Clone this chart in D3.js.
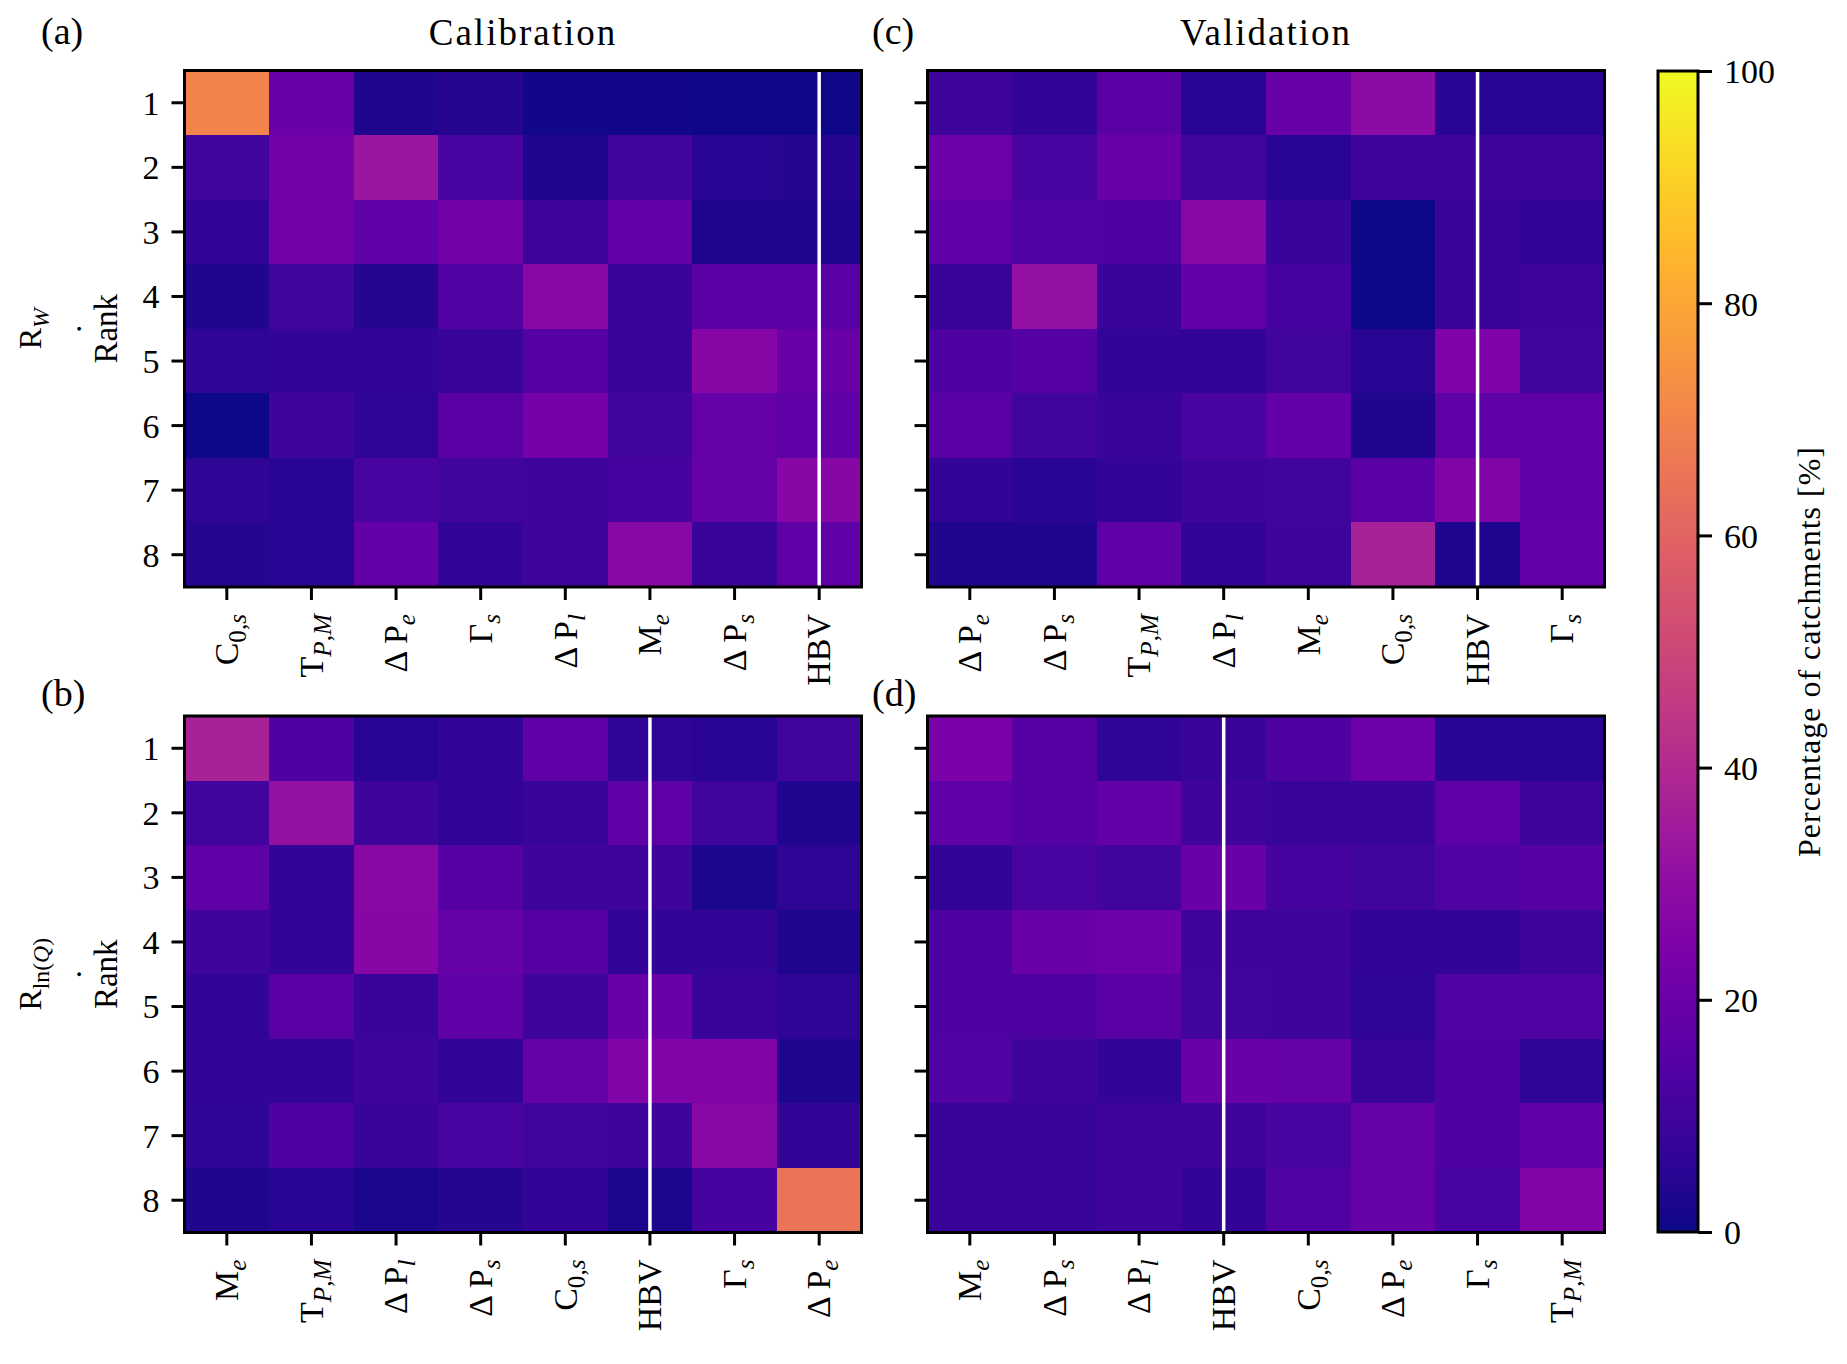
<!DOCTYPE html>
<html>
<head>
<meta charset="utf-8">
<script src="https://cdn.jsdelivr.net/npm/d3@7"></script>
<style>
  body { margin: 0; background: #fff; }
  svg text { font-family: "Liberation Serif", "DejaVu Serif", serif; fill: #000; }
</style>
</head>
<body>
<script>
// datos: filas = rango 1..8, columnas = métodos (en el orden de las etiquetas)
const ranks = [1, 2, 3, 4, 5, 6, 7, 8];

const labelsCalW = ["C_{0,s}", "T_{P,M}", "Δ P_{e}", "Γ_{s}", "Δ P_{l}", "M_{e}", "Δ P_{s}", "HBV"];
const valuesCalW = [
  [70, 20, 3, 4, 1, 1, 0.5, 0.5],
  [10, 22, 33, 12, 3, 10, 5, 4],
  [7, 22, 17, 22, 9, 18, 3, 3],
  [3, 10, 4, 14, 28, 8, 16, 16],
  [6, 7, 7, 8, 15, 8, 27, 20],
  [0, 9, 6, 16, 23, 10, 19, 17],
  [6, 5, 12, 10, 9, 11, 19, 27],
  [4, 5, 18, 7, 9, 28, 8, 17]
];

const labelsValW = ["Δ P_{e}", "Δ P_{s}", "T_{P,M}", "Δ P_{l}", "M_{e}", "C_{0,s}", "HBV", "Γ_{s}"];
const valuesValW = [
  [9, 7, 16, 5, 20, 29, 5, 5],
  [21, 12, 20, 10, 5, 9, 9, 9],
  [17, 14, 13, 28, 8, 0, 8, 7],
  [8, 31, 8, 18, 11, 0, 8, 9],
  [13, 15, 7, 7, 10, 5, 25, 10],
  [16, 10, 8, 12, 18, 3, 17, 17],
  [7, 5, 7, 9, 10, 16, 26, 17],
  [3, 3, 17, 7, 9, 37, 3, 18]
];

const labelsCalQ = ["M_{e}", "T_{P,M}", "Δ P_{l}", "Δ P_{s}", "C_{0,s}", "HBV", "Γ_{s}", "Δ P_{e}"];
const valuesCalQ = [
  [37, 13, 5, 7, 17, 6, 5, 10],
  [10, 31, 9, 7, 8, 17, 10, 3],
  [17, 7, 28, 15, 9, 9, 2, 6],
  [9, 7, 27, 19, 15, 7, 7, 3],
  [7, 16, 8, 17, 9, 20, 8, 6],
  [7, 7, 9, 7, 19, 26, 26, 3],
  [6, 13, 8, 12, 10, 9, 28, 7],
  [3, 5, 2, 4, 7, 2, 11, 65]
];

const labelsValQ = ["M_{e}", "Δ P_{s}", "Δ P_{l}", "HBV", "C_{0,s}", "Δ P_{e}", "Γ_{s}", "T_{P,M}"];
const valuesValQ = [
  [24, 15, 6, 8, 13, 21, 5, 5],
  [17, 15, 18, 9, 8, 8, 17, 9],
  [7, 12, 10, 20, 11, 10, 14, 15],
  [13, 20, 21, 9, 9, 7, 7, 9],
  [13, 13, 16, 10, 9, 6, 14, 14],
  [14, 9, 7, 20, 19, 8, 13, 6],
  [8, 8, 9, 9, 12, 19, 13, 17],
  [8, 8, 9, 7, 14, 19, 12, 26]
];

const colorbarTicks = [0, 20, 40, 60, 80, 100];

// tamaño y disposición
const width = 1847;
const height = 1364;
const tickFont = 34;
const serif = "Liberation Serif, DejaVu Serif, serif";

const svg = d3.select("body").append("svg")
    .attr("width", width)
    .attr("height", height)
    .attr("font-family", serif);

const color = d3.scaleSequential(d3.interpolatePlasma).domain([0, 100]);

// escribe "base_{sub}" con el subíndice en cursiva (salvo dígitos, comas y "ln")
function writeLabel(textSel, label) {
    const m = label.match(/^(.*?)_\{(.*)\}$/);
    if (!m) { textSel.text(label); return; }
    textSel.append("tspan").text(m[1]);
    const tokens = m[2].match(/ln|[A-Za-z]|[^A-Za-z]+/g);
    tokens.forEach((t, i) => {
        const ts = textSel.append("tspan")
            .attr("font-size", "0.74em")
            .text(t);
        if (i === 0) ts.attr("dy", "0.32em");
        if (/^[A-Za-z]$/.test(t)) ts.attr("font-style", "italic");
    });
}

function heatmap(x0, y0, w, h, labels, values, showYLabels) {
    const g = svg.append("g").attr("transform", `translate(${x0},${y0})`);

    const x = d3.scaleBand().domain(labels).range([0, w]);
    const y = d3.scaleBand().domain(ranks).range([0, h]);

    // celdas
    values.forEach((row, i) => {
        g.selectAll(null)
            .data(row)
            .enter().append("rect")
            .attr("x", (d, j) => x(labels[j]))
            .attr("y", y(ranks[i]))
            .attr("width", x.bandwidth() + 0.5)
            .attr("height", y.bandwidth() + 0.5)
            .attr("fill", d => color(d))
            .attr("shape-rendering", "crispEdges");
    });

    // línea blanca en HBV
    const hx = x("HBV") + x.bandwidth() / 2;
    g.append("line")
        .attr("x1", hx).attr("x2", hx)
        .attr("y1", 0).attr("y2", h)
        .attr("stroke", "#fff")
        .attr("stroke-width", 3.5);

    // marco
    g.append("rect")
        .attr("width", w).attr("height", h)
        .attr("fill", "none")
        .attr("stroke", "#000")
        .attr("stroke-width", 3);

    // eje y
    const yAxis = g.append("g")
        .call(d3.axisLeft(y).tickSize(13).tickPadding(12)
            .tickFormat(d => showYLabels ? d : ""));
    yAxis.attr("font-family", serif);
    yAxis.select(".domain").remove();
    yAxis.selectAll(".tick line").attr("stroke-width", 3);
    yAxis.selectAll(".tick text")
        .attr("font-size", tickFont)
        .attr("dy", "0.35em");

    // eje x
    const xAxis = g.append("g")
        .attr("transform", `translate(0,${h})`)
        .call(d3.axisBottom(x).tickSize(13).tickFormat(""));
    xAxis.attr("font-family", serif);
    xAxis.select(".domain").remove();
    xAxis.selectAll(".tick line").attr("stroke-width", 3);
    xAxis.selectAll(".tick").each(function (d) {
        const t = d3.select(this).append("text")
            .attr("transform", "translate(0,27) rotate(-90)")
            .attr("text-anchor", "end")
            .attr("dy", "0.33em")
            .attr("font-size", tickFont);
        writeLabel(t, d);
    });

    return g;
}

// etiqueta del eje y en tres líneas: R_x / . / Rank
function yLabel(cy, label) {
    const g = svg.append("g").attr("transform", `translate(0,${cy}) rotate(-90)`);
    const t = g.append("text")
        .attr("x", 0).attr("y", 41)
        .attr("text-anchor", "middle")
        .attr("font-size", 32);
    writeLabel(t, label);
    g.append("text")
        .attr("x", 0).attr("y", 81)
        .attr("text-anchor", "middle")
        .attr("font-size", 32)
        .text(".");
    g.append("text")
        .attr("x", 0).attr("y", 117)
        .attr("text-anchor", "middle")
        .attr("font-size", 33)
        .text("Rank");
}

const colA = 184.5, colC = 927.5, pw = 677;
const rowTop = 70.5, rowBot = 716, ph = 516.5;

heatmap(colA, rowTop, pw, ph, labelsCalW, valuesCalW, true);
heatmap(colC, rowTop, pw, ph, labelsValW, valuesValW, false);
heatmap(colA, rowBot, pw, ph, labelsCalQ, valuesCalQ, true);
heatmap(colC, rowBot, pw, ph, labelsValQ, valuesValQ, false);

yLabel(rowTop + ph / 2, "R_{W}");
yLabel(rowBot + ph / 2, "R_{ln(Q)}");

// títulos
svg.append("text")
    .attr("x", colA + pw / 2).attr("y", 45)
    .attr("text-anchor", "middle")
    .attr("font-size", 37)
    .attr("letter-spacing", 2)
    .text("Calibration");
svg.append("text")
    .attr("x", colC + pw / 2).attr("y", 45)
    .attr("text-anchor", "middle")
    .attr("font-size", 37)
    .attr("letter-spacing", 2)
    .text("Validation");

// letras de los paneles
[["(a)", 41, 44], ["(c)", 872, 44], ["(b)", 41, 706], ["(d)", 872, 706]].forEach(([s, px, py]) => {
    svg.append("text")
        .attr("x", px).attr("y", py)
        .attr("font-size", 38)
        .text(s);
});

// barra de color
const cbX = 1658, cbW = 40, cbTop = 71, cbBot = 1232;
const defs = svg.append("defs");
const grad = defs.append("linearGradient")
    .attr("id", "plasma")
    .attr("x1", 0).attr("y1", 1).attr("x2", 0).attr("y2", 0);
d3.range(0, 1.0001, 0.05).forEach(t => {
    grad.append("stop")
        .attr("offset", t)
        .attr("stop-color", d3.interpolatePlasma(t));
});
svg.append("rect")
    .attr("x", cbX).attr("y", cbTop)
    .attr("width", cbW).attr("height", cbBot - cbTop)
    .attr("fill", "url(#plasma)")
    .attr("stroke", "#000")
    .attr("stroke-width", 3);

const cbScale = d3.scaleLinear().domain([0, 100]).range([cbBot, cbTop]);
const cbAxis = svg.append("g")
    .attr("transform", `translate(${cbX + cbW},0)`)
    .call(d3.axisRight(cbScale).tickValues(colorbarTicks).tickSize(14).tickPadding(12));
cbAxis.attr("font-family", serif);
cbAxis.select(".domain").remove();
cbAxis.selectAll(".tick line").attr("stroke-width", 3);
cbAxis.selectAll(".tick text")
    .attr("font-size", tickFont)
    .attr("dy", "0.35em");

svg.append("text")
    .attr("transform", `translate(1820,${(cbTop + cbBot) / 2}) rotate(-90)`)
    .attr("text-anchor", "middle")
    .attr("font-size", 32)
    .attr("letter-spacing", 1)
    .text("Percentage of catchments [%]");
</script>
</body>
</html>
